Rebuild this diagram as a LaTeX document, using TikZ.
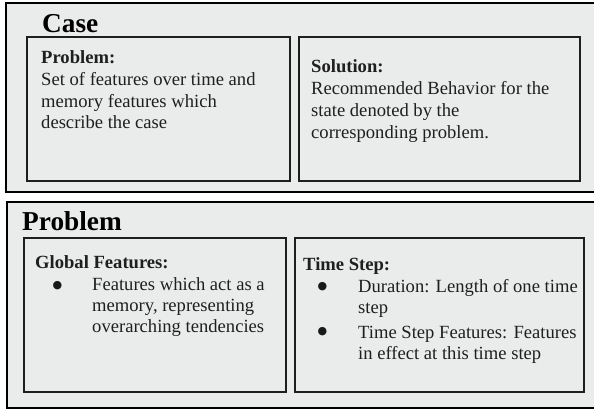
\documentclass[tikz,border=0pt]{standalone}
\usepackage{fontspec}
\setmainfont{Liberation Serif}
\newfontfamily\symfont{DejaVu Sans}
\definecolor{boxgray}{RGB}{234,235,235}
\definecolor{edge}{RGB}{30,30,30}
\begin{document}
\begin{tikzpicture}[x=1pt,y=-1pt,
  outerbox/.style={draw=black, line width=2.6pt, fill=boxgray, anchor=north west, inner sep=0, outer sep=0},
  innerbox/.style={draw=edge, line width=2pt, anchor=north west, inner sep=0, outer sep=0},
  body/.style={font=\fontsize{18.6}{21.5}\selectfont, anchor=base west, inner sep=0, text=black!88},
  head/.style={body, font=\fontsize{18.6}{21.5}\selectfont\bfseries},
  titletext/.style={font=\fontsize{27.3}{30}\selectfont\bfseries, anchor=base west, inner sep=0},
  dot/.style={font=\symfont\fontsize{11}{12}\selectfont, anchor=center, inner sep=0, text=black!90}]
\clip (0,0) rectangle (594,410);
\fill[white] (0,0) rectangle (594,410);
% outer boxes
\node[outerbox, minimum width=600pt, minimum height=189pt] (casebox) at (6,3) {};
\node[outerbox, minimum width=600pt, minimum height=206pt] (probbox) at (7,202) {};
% inner boxes
\node[innerbox, minimum width=263pt, minimum height=144pt] (pbox) at (27,37) {};
\node[innerbox, minimum width=281pt, minimum height=144pt] (sbox) at (299,37) {};
\node[innerbox, minimum width=262pt, minimum height=154pt] (gbox) at (24,238) {};
\node[innerbox, minimum width=289pt, minimum height=154pt] (tbox) at (295,238) {};
% Case
\node[titletext] (casetitle) at (42,32) {Case};
\node[head] (ph) at (41,63) {Problem:};
\node[body] (p1) at (41,85) {Set of features over time and};
\node[body] (p2) at (41,107) {memory features which};
\node[body] (p3) at (41,128) {describe the case};
\node[head] (sh) at (311,72) {Solution:};
\node[body] (s1) at (311,94) {Recommended Behavior for the};
\node[body] (s2) at (311,116) {state denoted by the};
\node[body] (s3) at (311,138) {corresponding problem.};
% Problem
\node[titletext] (probtitle) at (22,230) {Problem};
\node[head] (gh) at (35,268) {Global Features:};
\node[dot] (gd) at (57.5,285.5) {●};
\node[body] (g1) at (92,290) {Features which act as a};
\node[body] (g2) at (92,311) {memory, representing};
\node[body] (g3) at (92,332) {overarching tendencies};
\node[head] (th) at (303,270) {Time Step:};
\node[dot] (td1) at (322.5,287) {●};
\node[body] (t1) at (358,292) {Duration: Length of one time};
\node[body] (t2) at (358,313) {step};
\node[dot] (td2) at (322.5,332) {●};
\node[body] (t3) at (358,338) {Time Step Features: Features};
\node[body] (t4) at (358,359) {in effect at this time step};
\end{tikzpicture}
\end{document}
